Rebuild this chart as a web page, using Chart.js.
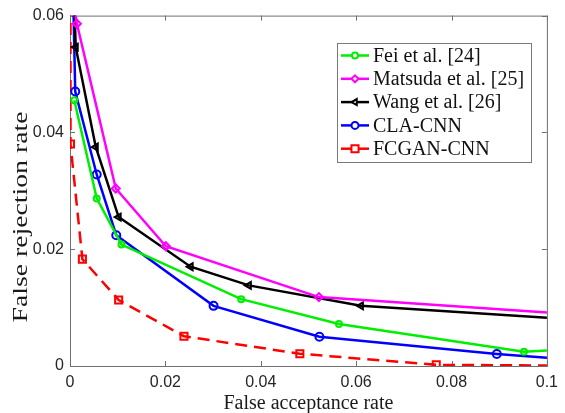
<!DOCTYPE html>
<html>
<head>
<meta charset="utf-8">
<script src="https://cdn.jsdelivr.net/npm/chart.js@4/dist/chart.umd.min.js"></script>
<style>
  html, body { margin: 0; padding: 0; background: #fff; }
  #wrap { width: 565px; height: 413px; }
</style>
</head>
<body>
<div id="wrap"><canvas id="far-frr" width="565" height="413"></canvas></div>
<script>
/* ==========================================================
   DATA
   ==========================================================*/
const xTicks = [0, 0.02, 0.04, 0.06, 0.08, 0.1];
const yTicks = [0, 0.02, 0.04, 0.06];

const feiX = [0.0009, 0.0056, 0.0108, 0.0359, 0.0564, 0.0952, 0.105];
const feiY = [0.0455, 0.0287, 0.0208, 0.01145, 0.0072, 0.00245, 0.0029];

const matsudaX = [0.0008, 0.00145, 0.0096, 0.0201, 0.0522, 0.105];
const matsudaY = [0.062, 0.0586, 0.0304, 0.0205, 0.0118, 0.0089];

const wangX = [0.0009, 0.0012, 0.0054, 0.0102, 0.0253, 0.0375, 0.061, 0.105];
const wangY = [0.062, 0.0546, 0.0375, 0.0255, 0.017, 0.0138, 0.0103, 0.008];

const claX = [0.0007, 0.0011, 0.0056, 0.0097, 0.0301, 0.0523, 0.0895, 0.105];
const claY = [0.062, 0.047, 0.0328, 0.0224, 0.0103, 0.005, 0.00205, 0.0011];

const fcganX = [0.0001, 0.0001, 0.0026, 0.0102, 0.0239, 0.0482, 0.0768, 0.105];
const fcganY = [0.062, 0.038, 0.0183, 0.0113, 0.0051, 0.0021, 0.0002, 0.00005];

const X_MAX = 0.1;
const Y_MAX = 0.06;

/* ==========================================================
   HELPERS
   ==========================================================*/
function pts(xs, ys) {
  return xs.map((x, i) => ({ x, y: ys[i] }));
}

// hide markers for points that sit outside the axes box
function markerRadius(r) {
  return (ctx) => {
    const p = ctx.raw;
    if (!p || p.x > X_MAX || p.y > Y_MAX) return 0;
    return r;
  };
}

function series(label, xs, ys, color, style, extra = {}) {
  return Object.assign(
    {
      label,
      data: pts(xs, ys),
      borderColor: color,
      backgroundColor: "rgba(0,0,0,0)",
      pointBorderColor: color,
      pointBackgroundColor: "rgba(0,0,0,0)",
      pointStyle: style,
      pointRadius: markerRadius(4),
      pointBorderWidth: 2,
      borderWidth: 2.5,
      tension: 0,
      fill: false,
    },
    extra
  );
}

/* ==========================================================
   PLUGIN: MATLAB style box, inward ticks, axis titles, legend
   ==========================================================*/
const matlabFrame = {
  id: "matlabFrame",
  beforeDatasetsDraw(chart) {
    const { ctx, chartArea: a, scales } = chart;
    ctx.save();
    ctx.strokeStyle = "#707070";
    ctx.lineWidth = 1;
    ctx.strokeRect(a.left + 0.5, a.top + 0.5, a.right - a.left, a.bottom - a.top);

    const tl = 5;
    ctx.beginPath();
    xTicks.forEach((v) => {
      const px = Math.round(scales.x.getPixelForValue(v)) + 0.5;
      ctx.moveTo(px, a.bottom);
      ctx.lineTo(px, a.bottom - tl);
      ctx.moveTo(px, a.top);
      ctx.lineTo(px, a.top + tl);
    });
    yTicks.forEach((v) => {
      const py = Math.round(scales.y.getPixelForValue(v)) + 0.5;
      ctx.moveTo(a.left, py);
      ctx.lineTo(a.left + tl, py);
      ctx.moveTo(a.right, py);
      ctx.lineTo(a.right - tl, py);
    });
    ctx.stroke();

    // axis titles
    ctx.fillStyle = "#1a1a1a";
    ctx.textAlign = "center";
    ctx.textBaseline = "middle";
    ctx.font = '20px "Liberation Serif"';
    ctx.fillText("False acceptance rate", (a.left + a.right) / 2, 404);

    // the y label is drawn longer in the source figure
    ctx.save();
    ctx.font = '22px "Liberation Serif"';
    ctx.translate(21, 217);
    ctx.rotate(-Math.PI / 2);
    ctx.scale(1.26, 1);
    ctx.fillText("False rejection rate", 0, 0);
    ctx.restore();
    ctx.restore();
  },
  afterDatasetsDraw(chart) {
    const { ctx } = chart;
    const box = { x: 337, y: 43, w: 194, h: 119 };
    ctx.save();
    ctx.fillStyle = "#fff";
    ctx.fillRect(box.x, box.y, box.w, box.h);
    ctx.strokeStyle = "#7a7a7a";
    ctx.lineWidth = 1;
    ctx.strokeRect(box.x + 0.5, box.y + 0.5, box.w, box.h);

    ctx.font = '20px "Liberation Serif"';
    ctx.textBaseline = "middle";
    ctx.textAlign = "left";
    chart.data.datasets.forEach((ds, i) => {
      const cy = box.y + 12.5 + i * 23.3;
      ctx.strokeStyle = ds.borderColor;
      ctx.lineWidth = 2.5;
      ctx.setLineDash([]);
      ctx.beginPath();
      ctx.moveTo(box.x + 4, cy);
      ctx.lineTo(box.x + 32, cy);
      ctx.stroke();
      ctx.lineWidth = 2;
      ctx.fillStyle = "#fff";
      Chart.helpers.drawPoint(
        ctx,
        {
          pointStyle: ds.pointStyle,
          rotation: ds.pointRotation || 0,
          radius: ds.legendRadius || 3.5,
          borderWidth: 2,
        },
        box.x + 18,
        cy
      );
      ctx.fillStyle = "#111";
      ctx.fillText(ds.label, box.x + 36, cy + 1);
    });
    ctx.restore();
  },
};

/* ==========================================================
   CHART
   ==========================================================*/
const fmt = (v) => String(Number(Number(v).toFixed(4)));

new Chart(document.getElementById("far-frr"), {
  type: "line",
  data: {
    datasets: [
      series("Fei et al. [24]", feiX, feiY, "#00ee00", "circle", {
        pointRadius: markerRadius(3),
        legendRadius: 3,
      }),
      series("Matsuda et al. [25]", matsudaX, matsudaY, "#ff00ff", "rectRot"),
      series("Wang et al. [26]", wangX, wangY, "#000000", "triangle", { pointRotation: -90 }),
      series("CLA-CNN", claX, claY, "#0000ff", "circle"),
      series("FCGAN-CNN", fcganX, fcganY, "#ff0000", "rect", {
        borderDash: [12, 7],
        pointRadius: markerRadius(5),
        legendRadius: 5,
      }),
    ],
  },
  options: {
    responsive: false,
    animation: false,
    devicePixelRatio: 1,
    layout: { padding: { left: 0, top: 15, right: 11, bottom: 0 } },
    plugins: { legend: { display: false }, tooltip: { enabled: false } },
    scales: {
      x: {
        type: "linear",
        min: 0,
        max: X_MAX,
        afterFit: (s) => { s.height = 47; },
        afterBuildTicks: (s) => { s.ticks = xTicks.map((v) => ({ value: v })); },
        grid: { display: false, drawTicks: false },
        border: { display: false },
        ticks: {
          padding: 7,
          color: "#262626",
          font: { family: "Liberation Sans", size: 16 },
          callback: fmt,
          maxRotation: 0,
        },
      },
      y: {
        type: "linear",
        min: 0,
        max: Y_MAX,
        afterFit: (s) => { s.width = 70; },
        afterBuildTicks: (s) => { s.ticks = yTicks.map((v) => ({ value: v })); },
        grid: { display: false, drawTicks: false },
        border: { display: false },
        ticks: {
          padding: 6,
          color: "#262626",
          font: { family: "Liberation Sans", size: 16 },
          callback: fmt,
        },
      },
    },
  },
  plugins: [matlabFrame],
});
</script>
</body>
</html>
